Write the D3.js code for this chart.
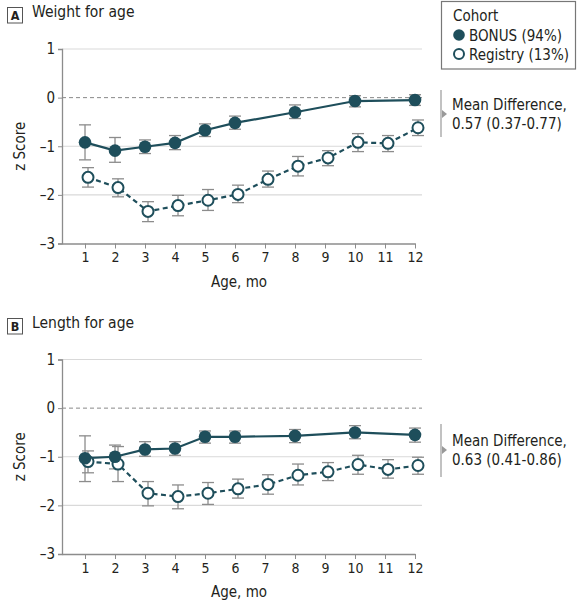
<!DOCTYPE html>
<html><head><meta charset="utf-8">
<script src="https://cdn.jsdelivr.net/npm/d3@7"></script>
<style>
html,body{margin:0;padding:0;background:#fff;}
svg text{font-family:"DejaVu Sans Condensed",Lato,sans-serif;fill:#231f20;}
</style></head>
<body><svg id="chart" width="577" height="600"></svg>
<script>
// ---- data ----
const months = [1,2,3,4,5,6,7,8,9,10,11,12];
const bonusMonths = [1,2,3,4,5,6,8,10,12];
const yTicks = [1,0,-1,-2,-3];
const seriesNames = ["BONUS (94%)","Registry (13%)"];

const weightBonus   = [-0.92,-1.09,-1.01,-0.93,-0.67,-0.52,-0.30,-0.07,-0.05];
const weightBonusLo = [-1.28,-1.33,-1.15,-1.07,-0.80,-0.65,-0.43,-0.19,-0.16];
const weightBonusHi = [-0.56,-0.82,-0.87,-0.78,-0.54,-0.38,-0.15, 0.04, 0.06];
const weightReg     = [-1.64,-1.85,-2.34,-2.22,-2.11,-1.99,-1.68,-1.41,-1.24,-0.92,-0.94,-0.62];
const weightRegLo   = [-1.84,-2.04,-2.55,-2.43,-2.32,-2.16,-1.84,-1.61,-1.40,-1.11,-1.11,-0.78];
const weightRegHi   = [-1.44,-1.67,-2.14,-2.01,-1.89,-1.80,-1.51,-1.21,-1.09,-0.74,-0.78,-0.46];

const lengthBonus   = [-1.03,-1.00,-0.85,-0.83,-0.59,-0.59,-0.57,-0.50,-0.55];
const lengthBonusLo = [-1.51,-1.25,-0.99,-0.97,-0.72,-0.72,-0.71,-0.63,-0.70];
const lengthBonusHi = [-0.57,-0.76,-0.69,-0.69,-0.47,-0.47,-0.44,-0.36,-0.41];
const lengthReg     = [-1.10,-1.15,-1.75,-1.82,-1.75,-1.66,-1.57,-1.38,-1.31,-1.16,-1.26,-1.18];
const lengthRegLo   = [-1.33,-1.51,-2.01,-2.07,-1.98,-1.85,-1.77,-1.58,-1.49,-1.36,-1.44,-1.36];
const lengthRegHi   = [-0.88,-0.79,-1.51,-1.58,-1.53,-1.46,-1.37,-1.15,-1.12,-0.97,-1.06,-1.01];

const panelLetters = ["A","B"];
const panelTitles = ["Weight for age","Length for age"];
const meanDiffText = [["Mean Difference,","0.57 (0.37-0.77)"],["Mean Difference,","0.63 (0.41-0.86)"]];
const xLabel = "Age, mo";
const yLabel = "z Score";
const legendTitle = "Cohort";

// ---- style ----
const C = "#1e4e5b";
const GRAY = "#8c8c8c";
const svg = d3.select("#chart");

const panels = [
  {top:49, bonus:weightBonus, bLo:weightBonusLo, bHi:weightBonusHi, reg:weightReg, rLo:weightRegLo, rHi:weightRegHi, titleY:0, annY:[90,137], triY:114, textY:[110,129]},
  {top:359.5, bonus:lengthBonus, bLo:lengthBonusLo, bHi:lengthBonusHi, reg:lengthReg, rLo:lengthRegLo, rHi:lengthRegHi, titleY:311, annY:[424,477], triY:450, textY:[446,465]}
];

const x = d3.scaleLinear().domain([0.233,12]).range([62,415]);
const dodge = 0.1;

panels.forEach((p,i)=>{
  const y = d3.scaleLinear().domain([-3,1]).range([p.top+194.5, p.top]);
  const g = svg.append("g");

  // title box
  g.append("rect").attr("x",7.5).attr("y",p.titleY+7.5).attr("width",15).attr("height",15.5)
    .attr("fill","none").attr("stroke","#555").attr("stroke-width",1);
  g.append("text").attr("x",15).attr("y",p.titleY+20).attr("text-anchor","middle")
    .style("font-size","12.5px").style("font-weight","bold").text(panelLetters[i]);
  g.append("text").attr("x",32).attr("y",p.titleY+17).style("font-size","15.5px").text(panelTitles[i]);

  // gridlines
  [1,-1,-2].forEach(v=>{
    g.append("line").attr("x1",62).attr("x2",422).attr("y1",y(v)).attr("y2",y(v))
      .attr("stroke","#d9d9d9").attr("stroke-width",1.2);
  });
  g.append("line").attr("x1",62).attr("x2",422).attr("y1",y(0)).attr("y2",y(0))
    .attr("stroke","#888").attr("stroke-width",1).attr("stroke-dasharray","4,3");

  // y axis
  const ya = g.append("g").attr("transform","translate(62,0)")
    .call(d3.axisLeft(y).tickValues(yTicks).tickSize(4).tickFormat(d=>d<0?"\u2013"+Math.abs(d):d));
  ya.select(".domain").attr("stroke",GRAY).attr("stroke-width",1.3);
  ya.selectAll(".tick line").attr("stroke",GRAY);
  ya.selectAll(".tick text").style("font-size","15px").attr("fill","#231f20").attr("x",-7);

  // x axis
  const xa = g.append("g").attr("transform",`translate(0,${y(-3)})`)
    .call(d3.axisBottom(x).tickValues(months).tickSize(5).tickSizeOuter(0));
  xa.select(".domain").attr("stroke",GRAY).attr("stroke-width",1.3);
  xa.selectAll(".tick line").attr("stroke",GRAY);
  xa.selectAll(".tick text").style("font-size","14px").attr("fill","#231f20").attr("y",9);

  g.append("text").attr("x",239).attr("y",y(-3)+43).attr("text-anchor","middle")
    .style("font-size","15px").text(xLabel);
  g.append("text").attr("transform",`translate(25,${y(-1)}) rotate(-90)`).attr("text-anchor","middle")
    .style("font-size","15px").text(yLabel);

  // registry data
  const regData = months.map((m,k)=>({x:m+dodge, v:p.reg[k], lo:p.rLo[k], hi:p.rHi[k]}));
  const bonData = bonusMonths.map((m,k)=>({x:m, v:p.bonus[k], lo:p.bLo[k], hi:p.bHi[k]}));

  const drawErr = (data)=>{
    const e = g.append("g").attr("stroke",GRAY).attr("stroke-width",1.3);
    data.forEach(d=>{
      e.append("line").attr("x1",x(d.x)).attr("x2",x(d.x)).attr("y1",y(d.lo)).attr("y2",y(d.hi));
      e.append("line").attr("x1",x(d.x)-6).attr("x2",x(d.x)+6).attr("y1",y(d.lo)).attr("y2",y(d.lo));
      e.append("line").attr("x1",x(d.x)-6).attr("x2",x(d.x)+6).attr("y1",y(d.hi)).attr("y2",y(d.hi));
    });
  };
  drawErr(regData);
  drawErr(bonData);

  const line = d3.line().x(d=>x(d.x)).y(d=>y(d.v));
  g.append("path").datum(regData).attr("d",line).attr("fill","none").attr("stroke",C)
    .attr("stroke-width",2.2).attr("stroke-dasharray","5,3.5");
  g.append("path").datum(bonData).attr("d",line).attr("fill","none").attr("stroke",C)
    .attr("stroke-width",2.2);

  g.selectAll(".rp").data(regData).enter().append("circle")
    .attr("cx",d=>x(d.x)).attr("cy",d=>y(d.v)).attr("r",5.5)
    .attr("fill","#fff").attr("stroke",C).attr("stroke-width",2);
  g.selectAll(".bp").data(bonData).enter().append("circle")
    .attr("cx",d=>x(d.x)).attr("cy",d=>y(d.v)).attr("r",6.3).attr("fill",C);

  // annotation
  g.append("line").attr("x1",441).attr("x2",441).attr("y1",p.annY[0]).attr("y2",p.annY[1])
    .attr("stroke","#999").attr("stroke-width",1.2);
  g.append("path").attr("d",`M442,${p.triY-4}L447,${p.triY}L442,${p.triY+4}Z`).attr("fill","#999");
  meanDiffText[i].forEach((t,k)=>{
    g.append("text").attr("x",452).attr("y",p.textY[k]).style("font-size","15px").text(t);
  });
});

// legend
const lg = svg.append("g");
lg.append("rect").attr("x",441.5).attr("y",1.5).attr("width",134).attr("height",67.5)
  .attr("fill","#fff").attr("stroke","#777").attr("stroke-width",1.2);
lg.append("text").attr("x",453).attr("y",21).style("font-size","15px").text(legendTitle);
seriesNames.forEach((s,k)=>{
  const cy = 35 + k*19;
  lg.append("circle").attr("cx",459).attr("cy",cy).attr("r",k===0?5.8:5)
    .attr("fill",k===0?C:"#fff").attr("stroke",C).attr("stroke-width",k===0?0:2);
  lg.append("text").attr("x",469).attr("y",cy+5.5).style("font-size","15px").text(s);
});
</script></body></html>
